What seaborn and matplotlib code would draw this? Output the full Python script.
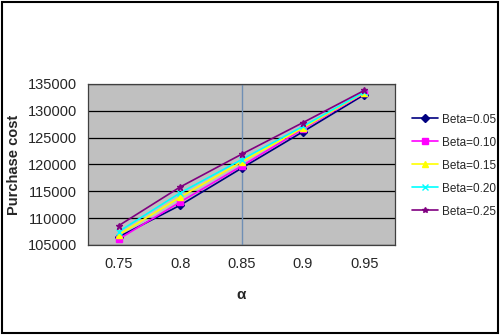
import pandas as pd
import seaborn as sns
import matplotlib.pyplot as plt
from matplotlib.patches import Rectangle

alpha_labels = ['0.75', '0.8', '0.85', '0.9', '0.95']
beta_labels = ['Beta=0.05', 'Beta=0.10', 'Beta=0.15', 'Beta=0.20', 'Beta=0.25']
beta_005 = [106500, 112400, 119300, 126100, 133000]
beta_010 = [106100, 113000, 119700, 126600, 133300]
beta_015 = [106900, 113900, 120500, 126800, 133400]
beta_020 = [107500, 114700, 120900, 127100, 133500]
beta_025 = [108600, 115800, 121900, 127800, 133800]

colors = ['#000080', '#FF00FF', '#FFFF00', '#00FFFF', '#800080']
markers = ['D', 's', '^', 'x', '*']

sns.set_style('white')
plt.rcParams['font.family'] = ['Liberation Sans', 'DejaVu Sans']

fig = plt.figure(figsize=(5, 3.35), dpi=100)
ax = fig.add_axes([0.176, 0.2687, 0.614, 0.4806])
ax.set_facecolor('#C0C0C0')

series = [beta_005, beta_010, beta_015, beta_020, beta_025]
for lab, vals, c, m in zip(beta_labels, series, colors, markers):
    d = pd.DataFrame({'pos': range(len(vals)), 'cost': vals})
    sns.lineplot(data=d, x='pos', y='cost', color=c, marker=m,
                 markersize=4.5, linewidth=1.2, markeredgewidth=1,
                 markeredgecolor=c, label=lab, ax=ax, zorder=3)

ax.axvline(2, color='#6F8FB5', linewidth=1, zorder=2)

ax.set_xlim(-0.5, 4.5)
ax.set_ylim(105000, 135000)
ax.set_yticks(range(105000, 135001, 5000))
ax.yaxis.grid(True, color='black', linewidth=0.9)
ax.set_axisbelow(True)
ax.set_xticks([-0.5, 0.5, 1.5, 2.5, 3.5, 4.5])
ax.set_xticklabels([])
ax.set_xticks(range(5), minor=True)
ax.set_xticklabels(alpha_labels, minor=True)
ax.tick_params(axis='x', which='major', direction='out', length=5, color='black', width=0.8)
ax.tick_params(axis='x', which='minor', length=0, pad=9, labelsize=10.5)
ax.tick_params(axis='y', direction='out', length=5, color='black', width=0.8, labelsize=10.5, pad=3)
for s in ax.spines.values():
    s.set_color('#404040')
    s.set_linewidth(0.9)

ax.set_xlabel('α', fontsize=11, fontweight='bold', labelpad=12)
ax.set_ylabel('Purchase cost', fontsize=10.5, fontweight='bold', labelpad=5)

handles, labels = ax.get_legend_handles_labels()
ax.legend(handles, labels, loc='upper left', bbox_to_anchor=(0.815, 0.675),
          bbox_transform=fig.transFigure, frameon=False, fontsize=8.5,
          handlelength=2.2, handletextpad=0.35, labelspacing=0.93,
          borderaxespad=0, markerscale=0.85)

fig.patches.append(Rectangle((0.004, 0.006), 0.992, 0.988, transform=fig.transFigure,
                             fill=False, edgecolor='black', linewidth=1.5))

fig.savefig('out.png', dpi=100)
